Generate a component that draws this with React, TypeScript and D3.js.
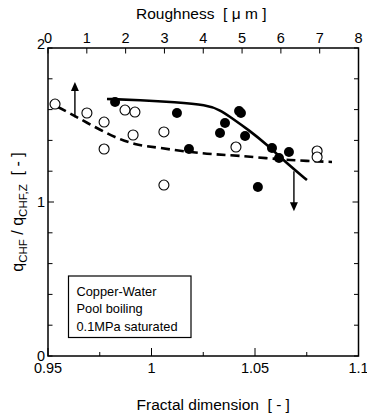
import * as d3 from 'd3'

// fractal dimension vs normalised CHF
const openFD = [0.9534, 0.9688, 0.9771, 0.9771, 0.9872, 0.992, 0.9911, 1.006, 1.006, 1.0408, 1.08, 1.08]
const openQ = [1.636, 1.578, 1.519, 1.344, 1.597, 1.584, 1.435, 1.455, 1.11, 1.357, 1.331, 1.292]
const filledFD = [0.9824, 1.0123, 1.0181, 1.0423, 1.0432, 1.0355, 1.0331, 1.0452, 1.0582, 1.0664, 1.0616, 1.0514]
const filledQ = [1.649, 1.578, 1.344, 1.591, 1.578, 1.513, 1.448, 1.429, 1.351, 1.325, 1.286, 1.097]

const solidFD = [0.9785, 0.9944, 1.0114, 1.0267, 1.0331, 1.0379, 1.0476, 1.0548, 1.0669, 1.0751]
const solidQ = [1.669, 1.662, 1.649, 1.63, 1.597, 1.554, 1.461, 1.383, 1.234, 1.143]
const dashFD = [0.9548, 0.963, 0.9727, 0.9824, 0.992, 1.0041, 1.0234, 1.0428, 1.0669, 1.0872]
const dashQ = [1.617, 1.558, 1.487, 1.422, 1.377, 1.351, 1.318, 1.299, 1.273, 1.26]

// arrows: [fd, from, to]
const arrows: [number, number, number][] = [
  [0.963, 1.55, 1.78],
  [1.0688, 1.2, 0.94],
]

const xMajor = [0.95, 1, 1.05, 1.1]
const xMajorLabels = ['0.95', '1', '1.05', '1.1']
const xMinor = [0.975, 1.025, 1.075]
const roughTicks = [0, 1, 2, 3, 4, 5, 6, 7, 8]
const yTicks = [0, 0.2, 0.4, 0.6, 0.8, 1, 1.2, 1.4, 1.6, 1.8, 2]
const yLabels = [0, 1, 2]
const legendLines = ['Copper-Water', 'Pool boiling', '0.1MPa saturated']

const W = 367
const H = 415
const m = { top: 48, right: 8.5, bottom: 59, left: 48 }
const font = 'Arial, "Liberation Sans", sans-serif'

export default function App() {
  const x = d3.scaleLinear().domain([0.95, 1.1]).range([m.left, W - m.right])
  const xr = d3.scaleLinear().domain([0, 8]).range([m.left, W - m.right])
  const y = d3.scaleLinear().domain([0, 2]).range([H - m.bottom, m.top])
  const x0 = m.left
  const x1 = W - m.right
  const y0 = H - m.bottom
  const y1 = m.top

  const line = d3
    .line<[number, number]>()
    .x((d) => x(d[0]))
    .y((d) => y(d[1]))

  const solid =
    line.curve(d3.curveBasis)(solidFD.map((v, i) => [v, solidQ[i]]) as [number, number][]) || ''
  const dashed =
    line.curve(d3.curveCatmullRom.alpha(0.5))(dashFD.map((v, i) => [v, dashQ[i]]) as [number, number][]) || ''

  return (
    <svg
      width={W}
      height={H}
      style={{ position: 'absolute', left: 0, top: 0, background: '#fff' }}
      fontFamily={font}
    >
      <rect width={W} height={H} fill="#fff" />

      {/* legend box */}
      <rect x={68.5} y={276} width={122.5} height={61.5} fill="#fff" stroke="#000" strokeWidth={1.2} />
      {legendLines.map((t, i) => (
        <text key={t} x={76.5} y={295.5 + i * 17.5} fontSize={12.8} fill="#000">
          {t}
        </text>
      ))}

      {/* curves */}
      <path d={dashed} fill="none" stroke="#000" strokeWidth={2.6} strokeDasharray="9,5" />
      <path d={solid} fill="none" stroke="#000" strokeWidth={2.6} />

      {/* arrows */}
      {arrows.map(([fd, a, b], i) => {
        const ya = y(a)
        const yb = y(b)
        const dir = yb < ya ? -1 : 1
        return (
          <g key={i}>
            <line x1={x(fd)} x2={x(fd)} y1={ya} y2={yb - dir * 8} stroke="#000" strokeWidth={1.4} />
            <path
              d={`M${x(fd)},${yb} L${x(fd) - 4},${yb - dir * 9} L${x(fd) + 4},${yb - dir * 9} Z`}
              fill="#000"
            />
          </g>
        )
      })}

      {/* points */}
      {openFD.map((v, i) => (
        <circle key={'o' + i} cx={x(v)} cy={y(openQ[i])} r={5} fill="#fff" stroke="#000" strokeWidth={1.1} />
      ))}
      {filledFD.map((v, i) => (
        <circle key={'f' + i} cx={x(v)} cy={y(filledQ[i])} r={5} fill="#000" />
      ))}

      {/* frame */}
      <rect x={x0} y={y1} width={x1 - x0} height={y0 - y1} fill="none" stroke="#000" strokeWidth={1.5} />

      {/* y ticks both sides */}
      {yTicks.map((t) => {
        const len = t === 1 ? 6 : 4.5
        return (
          <g key={t}>
            <line x1={x0} x2={x0 + len} y1={y(t)} y2={y(t)} stroke="#000" strokeWidth={1} />
            <line x1={x1} x2={x1 - len} y1={y(t)} y2={y(t)} stroke="#000" strokeWidth={1} />
          </g>
        )
      })}
      {yLabels.map((t) => (
        <text key={t} x={45} y={y(t)} dy={t === 2 ? 1 : 5} textAnchor="end" fontSize={14.5} fill="#000">
          {t}
        </text>
      ))}

      {/* bottom axis */}
      {xMajor.map((t) => (
        <line key={t} x1={x(t)} x2={x(t)} y1={y0} y2={y0 - 8} stroke="#000" strokeWidth={1} />
      ))}
      {xMinor.map((t) => (
        <line key={t} x1={x(t)} x2={x(t)} y1={y0} y2={y0 - 4} stroke="#000" strokeWidth={1} />
      ))}
      {xMajor.map((t, i) => (
        <text key={t} x={x(t)} y={373} textAnchor="middle" fontSize={14.5} fill="#000">
          {xMajorLabels[i]}
        </text>
      ))}
      <text x={(x0 + x1) / 2 + 10} y={410} textAnchor="middle" fontSize={15.5} fill="#000" xmlSpace="preserve">
        {'Fractal dimension  [ - ]'}
      </text>

      {/* top axis: roughness */}
      {roughTicks.map((t) => (
        <line key={t} x1={xr(t)} x2={xr(t)} y1={y1} y2={y1 + 5.5} stroke="#000" strokeWidth={1} />
      ))}
      {roughTicks.map((t) => (
        <text key={t} x={xr(t)} y={43} textAnchor="middle" fontSize={14.5} fill="#000">
          {t}
        </text>
      ))}
      <text x={(x0 + x1) / 2 - 2} y={19} textAnchor="middle" fontSize={15.5} fill="#000" xmlSpace="preserve">
        {'Roughness  [ μ m ]'}
      </text>

      {/* y title */}
      <text
        transform={`translate(23,${(y0 + y1) / 2 + 10}) rotate(-90)`}
        textAnchor="middle"
        fontSize={16}
        fill="#000"
        xmlSpace="preserve"
      >
        q<tspan fontSize={11.5} dy={4}>CHF</tspan>
        <tspan dy={-4}>{' / q'}</tspan>
        <tspan fontSize={11.5} dy={4}>CHF,Z</tspan>
        <tspan dy={-4}>{'  [ - ]'}</tspan>
      </text>
    </svg>
  )
}
